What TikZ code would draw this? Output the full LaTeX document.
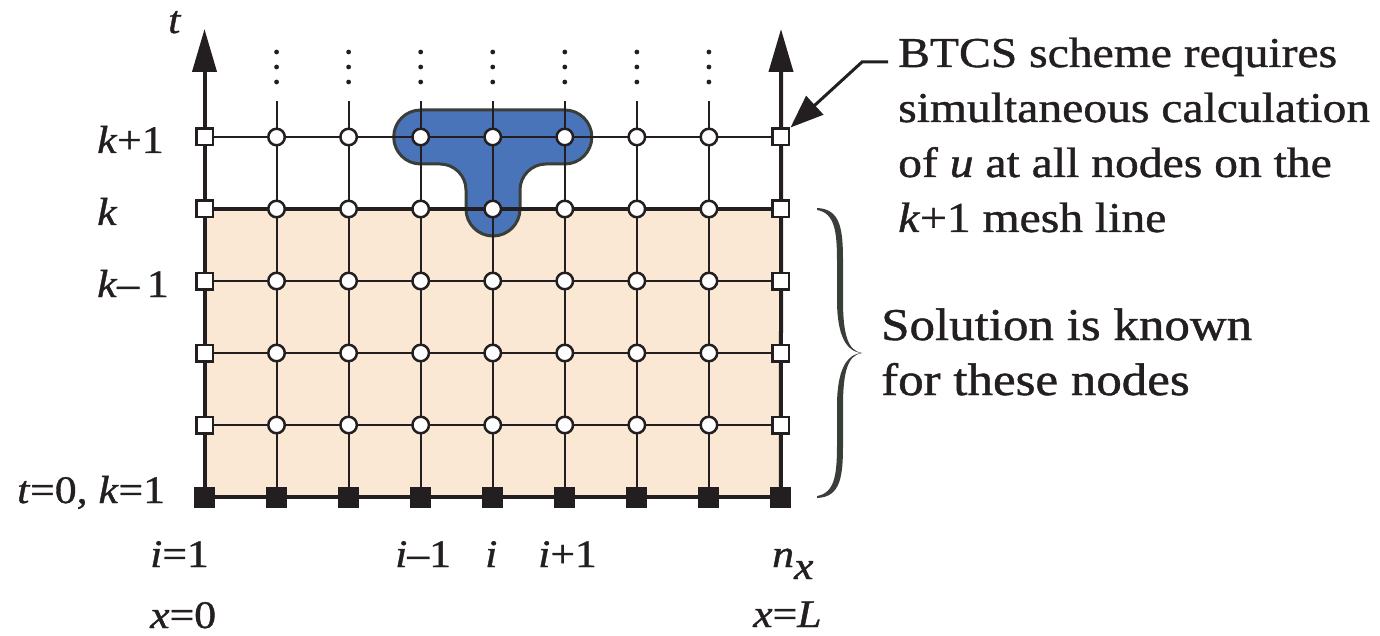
\documentclass[tikz,border=0pt]{standalone}
\usepackage{fontspec}
\setmainfont{Liberation Serif}[FakeStretch=1.12,FakeBold=1.0]
\usetikzlibrary{arrows.meta}
\definecolor{ink}{RGB}{35,31,32}
\definecolor{known}{RGB}{250,232,212}
\definecolor{tblue}{RGB}{74,116,185}
\definecolor{tedge}{RGB}{58,62,56}
\begin{document}
\begin{tikzpicture}[x=1pt,y=-1pt,
  gridline/.style={draw=ink,line width=2pt},
  kline/.style={draw=ink,line width=3.3pt},
  axisline/.style={draw=ink,line width=4pt},
  inode/.style={circle,draw=ink,fill=white,line width=2.5pt,minimum size=16.5pt,inner sep=0pt},
  bnode/.style={rectangle,draw=ink,fill=white,line width=2.5pt,minimum size=16.5pt,inner sep=0pt},
  fnode/.style={rectangle,fill=ink,minimum size=21pt,inner sep=0pt},
  lbl/.style={font=\fontsize{39}{44}\selectfont,inner sep=0pt,text=ink},
  note/.style={font=\fontsize{42.5}{55}\selectfont,inner sep=0pt,text=ink},
  sol/.style={font=\fontsize{45.5}{55}\selectfont,inner sep=0pt,text=ink}]
\useasboundingbox (0,0) rectangle (1380,636);
% coordinates of the mesh
\foreach \i in {0,...,8}{
  \foreach \j in {0,...,5}{
    \coordinate (p-\i-\j) at ({204.5+72.06*\i},{497-72*\j});
  }
  \coordinate (top-\i) at ({204.5+72.06*\i},101);
}
\coordinate (tipL) at (204.5,29);
\coordinate (tipR) at (781,29);
% known region
\fill[known] (p-0-4) rectangle (p-8-0);
% BTCS stencil
\filldraw[fill=tblue,draw=tedge,line width=3pt]
  (420.7,110) -- (564.8,110) arc[start angle=-90,end angle=90,radius=27]
  -- (546,164) arc[start angle=-90,end angle=-180,radius=26]
  -- (520,209) arc[start angle=0,end angle=180,radius=27]
  -- (466,190) arc[start angle=0,end angle=-90,radius=26]
  -- (420.7,164) arc[start angle=90,end angle=270,radius=27] -- cycle;
% grid lines
\foreach \i in {1,...,7}{
  \draw[gridline] (p-\i-0) -- (top-\i);
  \foreach \yy in {52,67,82}{
    \fill[ink] ({204.5+72.06*\i},\yy) circle[radius=2.4];
  }
}
\foreach \j in {1,2,3,5}{
  \draw[gridline] (p-0-\j) -- (p-8-\j);
}
\draw[kline] (p-0-4) -- (p-8-4);
\draw[axisline] (p-0-0) -- (p-8-0);
\draw[axisline,-{Triangle[length=43pt,width=24pt]}] (p-0-0) -- (tipL);
\draw[axisline,-{Triangle[length=43pt,width=24pt]}] (p-8-0) -- (tipR);
% nodes
\foreach \i in {0,...,8}{
  \node[fnode] (n-\i-0) at (p-\i-0) {};
}
\foreach \j in {1,...,5}{
  \node[bnode] (n-0-\j) at (p-0-\j) {};
  \node[bnode] (n-8-\j) at (p-8-\j) {};
  \foreach \i in {1,...,7}{
    \node[inode] (n-\i-\j) at (p-\i-\j) {};
  }
}
% axis label
\node[lbl,anchor=base west] (tlab) at (168,33) {\textit{t}};
% row labels
\node[lbl,anchor=base west] (r5) at (97,153) {\textit{k}+1};
\node[lbl,anchor=base west] (r4) at (97,225) {\textit{k}};
\node[lbl,anchor=base west] (r3) at (97,297) {\textit{k}–\hspace{0.2em}1};
\node[lbl,anchor=base west] (r0) at (17,503) {\textit{t}=0, \textit{k}=1};
% column labels
\node[lbl,anchor=base west] (c1) at (150,567) {\textit{i}=1};
\node[lbl,anchor=base west] (x0) at (150,628) {\textit{x}=0};
\node[lbl,anchor=base west] (cim) at (395,567) {\textit{i}–1};
\node[lbl,anchor=base west] (ci) at (485,567) {\textit{i}};
\node[lbl,anchor=base west] (cip) at (538,567) {\textit{i}+1};
\node[lbl,anchor=base west] (cn) at (772,567) {\textit{n}\raisebox{-12pt}{\textit{x}}};
\node[lbl,anchor=base west] (xL) at (753,627) {\textit{x}=\textit{L}};
% BTCS note
\node[note,anchor=base west] (b1) at (898,67) {BTCS scheme requires};
\node[note,anchor=base west] (b2) at (898,122) {simultaneous calculation};
\node[note,anchor=base west] (b3) at (898,177) {of \textit{u} at all nodes on the};
\node[note,anchor=base west] (b4) at (898,232) {\textit{k}+1 mesh line};
\coordinate (ptrA) at (888,62);
\coordinate (ptrB) at (862,62);
\draw[draw=ink,line width=3pt,-{Triangle[length=33pt,width=25pt]}]
  (ptrA) -- (ptrB) -- (n-8-5.north east);
% tapered brace
\fill[tedge]
  (817,208) .. controls (841,209) and (843,230) .. (843,262) -- (843,300)
  .. controls (843,335) and (848,351) .. (862,353)
  .. controls (846,352) and (837,335) .. (837,300) -- (837,262)
  .. controls (837,232) and (835,213) .. (817,210) -- cycle;
\fill[tedge]
  (817,498) .. controls (841,497) and (843,476) .. (843,444) -- (843,406)
  .. controls (843,371) and (848,355) .. (862,353)
  .. controls (846,354) and (837,371) .. (837,406) -- (837,444)
  .. controls (837,474) and (835,493) .. (817,496) -- cycle;
\node[sol,anchor=base west] (s1) at (881,340) {Solution is known};
\node[sol,anchor=base west] (s2) at (881,395) {for these nodes};
\end{tikzpicture}
\end{document}
